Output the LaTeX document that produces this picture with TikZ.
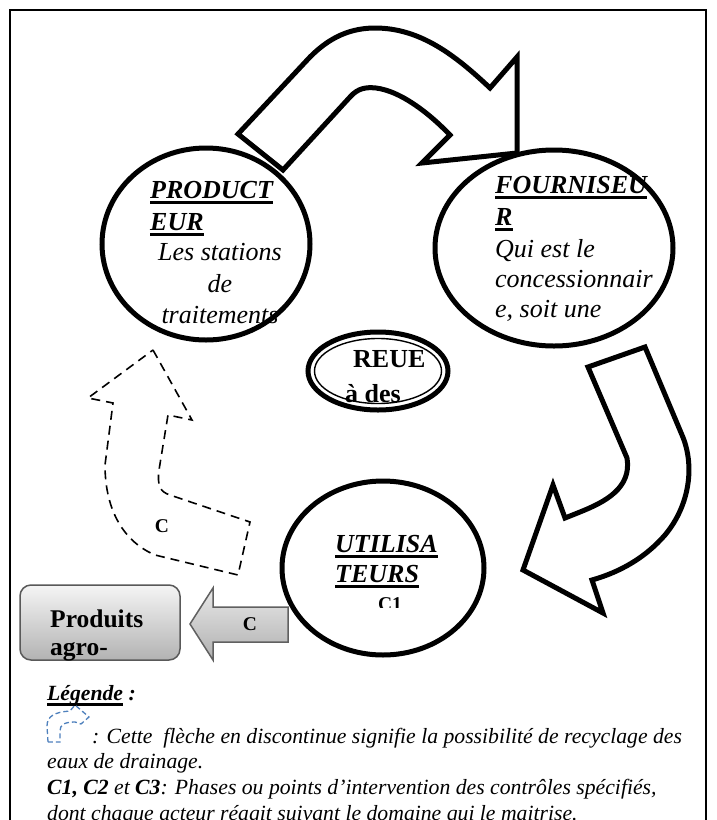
\documentclass[tikz,border=0pt]{standalone}
\usepackage{fontspec}
\setmainfont{Liberation Serif}
\usetikzlibrary{shapes.geometric}
\definecolor{legblue}{RGB}{79,129,189}
\newcommand\bigfont{\fontsize{26}{31}\selectfont}
\newcommand\legfont{\fontsize{21.7}{25}\selectfont}
\newcommand\midfont{\fontsize{19.5}{22}\selectfont}
\newcommand\myul[1]{\setbox0\hbox{#1}\rlap{\rule[-6pt]{\wd0}{2.6pt}}\box0}
\tikzset{
  bigarrow/.style={draw, fill=white, line width=5pt, line join=miter, miter limit=6},
  dasharrow/.style={draw, line width=1.6pt, dash pattern=on 9pt off 6pt, line join=miter},
  actor/.style={ellipse, draw, fill=white, line width=5pt, inner sep=0pt},
  head/.style={anchor=base west, inner sep=0pt, font=\bigfont\bfseries\itshape},
  body/.style={anchor=base, inner sep=0pt, font=\bigfont\itshape},
  bodyl/.style={anchor=base west, inner sep=0pt, font=\bigfont\itshape},
  legtxt/.style={anchor=base west, inner sep=0pt, font=\legfont\itshape},
  clabel/.style={anchor=base, inner sep=0pt, font=\midfont\bfseries}
}
\begin{document}
\begin{tikzpicture}[x=1pt,y=-1pt]
\clip (0,0) rectangle (717,820);
\fill[white] (0,0) rectangle (717,820);
\draw[line width=1.5pt] (10,10) rectangle (706,850);

% top block arrow
\draw[bigarrow] (238,134) -- (283,170) -- (350,97)
  .. controls (358,88) and (366,87) .. (376,88)
  .. controls (400,91) and (428,112) .. (450,135)
  -- (422,163) -- (517,153) -- (517,57) -- (490,88)
  .. controls (455,55) and (420,28) .. (375,28)
  .. controls (345,28) and (325,42) .. (310,57) -- cycle;

% right curved block arrow
\draw[bigarrow] (588,367) -- (645,347) -- (682,435)
  .. controls (695,465) and (690,505) .. (665,535)
  .. controls (645,558) and (620,572) .. (592,580)
  -- (603,613) -- (523,570) -- (553,485) -- (565,518)
  -- (580,512) .. controls (605,502) and (632,488) .. (627,458) -- cycle;

% dashed recycling arrow
\draw[dasharrow] (153,350) -- (192,420) -- (168,415) -- (159,470)
  .. controls (157,485) and (160,492) .. (170,495) -- (250,522) -- (238,575)
  -- (155,555) .. controls (120,540) and (105,505) .. (105,465)
  -- (113,403) -- (88,398) -- cycle;
\node[clabel] (cdash) at (162,532) {C};

% actors
\node[actor, minimum width=208pt, minimum height=192pt] (prod) at (206,244) {};
\node[actor, minimum width=238pt, minimum height=196pt] (four) at (554,248) {};
\node[actor, minimum width=202pt, minimum height=174pt] (util) at (383,568) {};

\node[head] (p1) at (150,198) {\myul{PRODUCT}};
\node[head] (p2) at (150,230) {\myul{EUR}};
\node[body] (p3) at (220,260) {Les stations};
\node[body] (p4) at (220,292) {de};
\node[body] (p5) at (220,323) {traitements};

\node[head] (f1) at (495,193) {\myul{FOURNISEU}};
\node[head] (f2) at (495,225) {\myul{R}};
\node[bodyl] (f3) at (495,257) {Qui est le};
\node[bodyl] (f4) at (495,287) {concessionnair};
\node[bodyl] (f5) at (495,317) {e, soit une};

\node[head] (u1) at (335,552) {\myul{UTILISA}};
\node[head] (u2) at (335,582) {\myul{TEURS}};
\begin{scope}
  \clip (340,585) rectangle (440,607);
  \node[clabel] (c1) at (390,610) {C1};
\end{scope}

% central double ellipse
\node[ellipse, draw, fill=white, line width=5pt, minimum width=140pt, minimum height=78pt] (reue) at (378,371) {};
\node[ellipse, draw, line width=1.4pt, minimum width=127pt, minimum height=65pt] (reuein) at (378,371) {};
\node[anchor=base west, inner sep=0pt, font=\bigfont\bfseries] (r1) at (353,367) {REUE};
\node[anchor=base west, inner sep=0pt, font=\bigfont\bfseries] (r2) at (345,402) {à des};

% grey arrow and box
\draw[top color=gray!18, bottom color=gray!62, draw=gray!75!black, line width=1.5pt, line join=miter]
  (190,624) -- (213,588) -- (213,607) -- (288,607) -- (288,642) -- (213,642) -- (213,660) -- cycle;
\node[clabel] (cgray) at (250,630) {C};
\draw[top color=gray!8, bottom color=gray!60, draw=gray!70!black, line width=1.5pt, rounded corners=11pt]
  (20,585) rectangle (180,660);
\node[anchor=base west, inner sep=0pt, font=\fontsize{25.5}{30}\selectfont\bfseries] (b1) at (50,627) {Produits};
\node[anchor=base west, inner sep=0pt, font=\fontsize{25.5}{30}\selectfont\bfseries] (b2) at (50,655) {agro-};

% legend
\node[anchor=base west, inner sep=0pt, font=\legfont\bfseries\itshape] (leg) at (47,700) {\myul{Légende}\ :};
\draw[legblue, line width=1.3pt, dash pattern=on 5pt off 3pt]
  (48,742) -- (47,726) .. controls (47,716) and (55,712) .. (70,711) -- (75,705) -- (89,717) -- (81,724)
  -- (75,722) .. controls (64,722) and (60,725) .. (60,731) -- (60,742) -- cycle;
\node[legtxt] (l1) at (92,743) {: Cette\ \ flèche en discontinue signifie la possibilité de recyclage des};
\node[legtxt] (l2) at (47,768) {eaux de drainage.};
\node[legtxt] (l3) at (47,794) {\textbf{C1, C2} et \textbf{C3}: Phases ou points d’intervention des contrôles spécifiés,};
\node[legtxt] (l4) at (47,820) {dont chaque acteur réagit suivant le domaine qui le maitrise.};
\end{tikzpicture}
\end{document}
